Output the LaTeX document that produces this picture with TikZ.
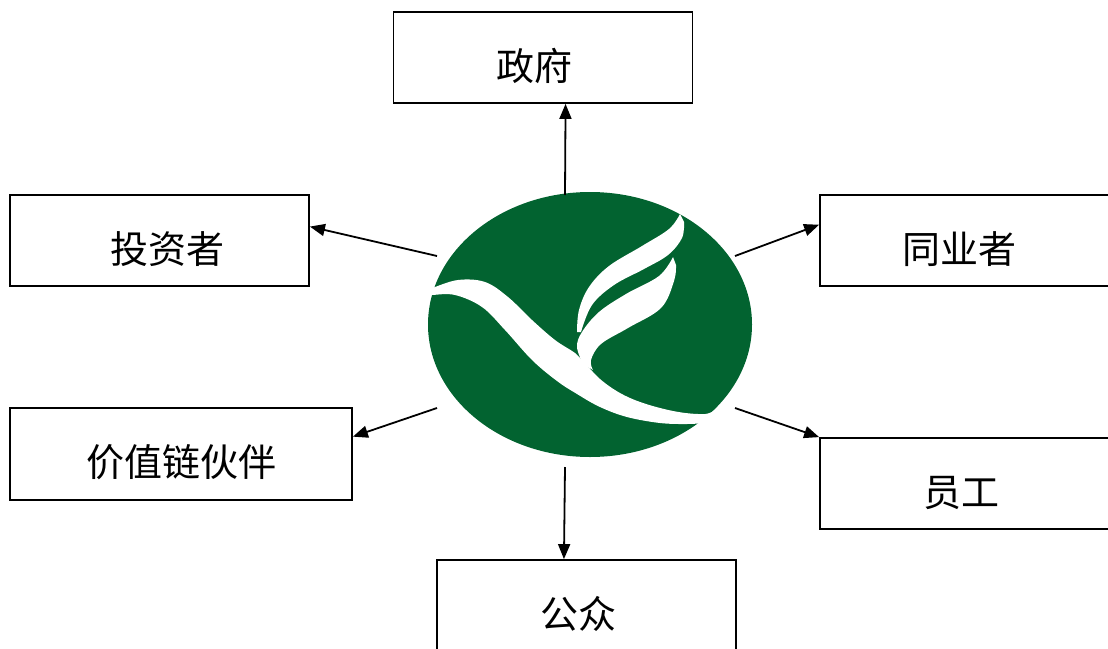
\documentclass[tikz,border=0pt]{standalone}
\usepackage{fontspec}
\newfontfamily\cjkfont{Noto Sans CJK SC}
\usetikzlibrary{arrows.meta,shapes.geometric,calc}
\definecolor{logogreen}{RGB}{2,99,48}
\begin{document}
\begin{tikzpicture}[x=1pt,y=-1pt,
  box/.style={draw=black, line width=1.8pt, rectangle, minimum width=299pt, minimum height=91pt,
    inner sep=0pt, text height=45pt, text depth=0pt, font=\cjkfont\fontsize{38}{42}\selectfont},
  conn/.style={line width=1.8pt, -{Triangle[length=15pt,width=12pt]}},
  leaf/.style={fill=white, draw=none}]
\useasboundingbox (0,0) rectangle (1108,648);

% logo
\node[ellipse, fill=logogreen, draw=none, minimum width=324pt, minimum height=265pt, inner sep=0pt] (logo) at (590,324.5) {};
\fill[leaf] plot[smooth, tension=0.6] coordinates {(424,290) (432,288) (458,280) (485,282) (508,297) (532,320) (555,340) (575,353) (584,362) (600,379) (620,393) (643,403) (673,411) (698,414) (712,412) (735,398)}
  -- plot[smooth, tension=0.6] coordinates {(705,423) (687,424) (660,423) (627,417) (600,407) (577,394) (557,381) (532,360) (505,330) (482,307) (455,295) (432,295) (424,296)} -- cycle;
\fill[leaf] plot[smooth, tension=0.6] coordinates {(577,332) (579,310) (589,287) (609,266) (642,246) (669,229) (680,214)}
  -- plot[smooth, tension=0.6] coordinates {(684,222) (682,238) (668,255) (644,269) (614,285) (592,305) (581,332)} -- cycle;
\fill[leaf] plot[smooth, tension=0.6] coordinates {(583,364) (577,347) (582,332) (599,312) (626,294) (659,276) (673,257)}
  -- plot[smooth, tension=0.6] coordinates {(676,265) (674,281) (661,308) (628,328) (601,344) (591,360) (593,370)} -- cycle;

% boxes
\node[box] (gov) at (543,57.5) {\kern-18pt 政府};
\node[box] (inv) at (159.5,240.5) {\kern15pt 投资者};
\node[box, minimum width=342pt, minimum height=92pt] (vcp) at (181,454) {价值链伙伴};
\node[box] (peer) at (969.5,240.5) {\kern-20pt 同业者};
\node[box] (emp) at (969.5,483.5) {\kern-17pt 员工};
\node[box] (pub) at (586.5,605.5) {\kern-17pt 公众};

% connector start points
\coordinate (sGov) at (565,195);
\coordinate (sInv) at (437,256);
\coordinate (sPeer) at (735,256);
\coordinate (sVcp) at (437,408);
\coordinate (sEmp) at (735,408);
\coordinate (sPub) at (565,467);

\draw[conn] (sGov) -- ($(gov.south west)!0.575!(gov.south east)$);
\draw[conn] (sInv) -- ($(inv.north east)!0.35!(inv.south east)$);
\draw[conn] (sPeer) -- ($(peer.north west)!0.33!(peer.south west)$);
\draw[conn] (sVcp) -- ($(vcp.north east)!0.315!(vcp.south east)$);
\draw[conn] (sEmp) -- (emp.north west);
\draw[conn] (sPub) -- ($(pub.north west)!0.425!(pub.north east)$);
\end{tikzpicture}
\end{document}
